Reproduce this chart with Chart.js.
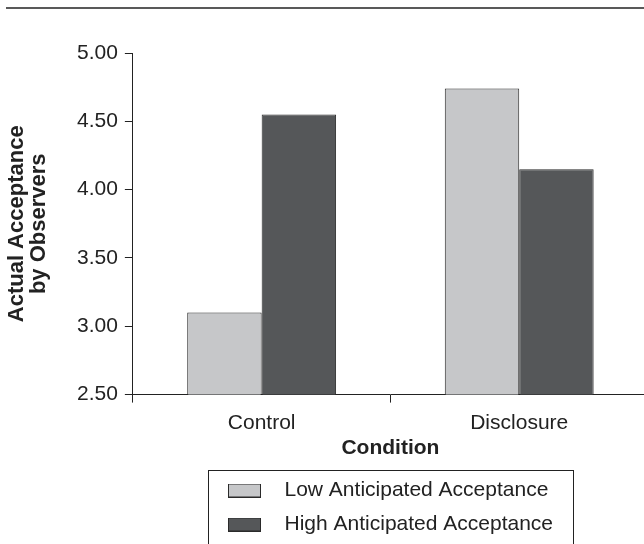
<!DOCTYPE html>
<html>
<head>
<meta charset="utf-8">
<script src="https://cdn.jsdelivr.net/npm/chart.js@4/dist/chart.umd.min.js"></script>
<style>
  html, body { margin: 0; padding: 0; background: #fff; overflow: hidden; }
  #wrap { width: 644px; height: 544px; overflow: hidden; position: relative; }
  canvas { display: block; }
</style>
</head>
<body>
<div id="wrap"><canvas id="c" width="660" height="544" style="width:660px;height:544px"></canvas></div>
<script>
const categories = ['Control', 'Disclosure'];
const seriesNames = ['Low Anticipated Acceptance', 'High Anticipated Acceptance'];
const lowValues = [3.10, 4.74];
const highValues = [4.55, 4.15];
const yMin = 2.5, yMax = 5.0, yStep = 0.5;
const xTitle = 'Condition';
const yTitle = ['Actual Acceptance', 'by Observers'];

const lowColor = '#c6c7c9';
const highColor = '#555759';
const edge = '#2a2a2a';
const FONT = "'Liberation Sans', Arial, Helvetica, sans-serif";

function swatch(color) {
  const cv = document.createElement('canvas');
  cv.width = 46; cv.height = 14;
  const g = cv.getContext('2d');
  g.fillStyle = color;
  g.fillRect(0.5, 0.5, 32, 13);
  g.strokeStyle = edge;
  g.lineWidth = 1;
  g.strokeRect(0.5, 0.5, 32, 13);
  return cv;
}

const decor = {
  id: 'decor',
  afterLayout(chart) {
    const lg = chart.legend;
    const dx = 228 - lg.left - 13;
    lg.left += dx; lg.right += dx;
    const dy = 467 - lg.top;
    lg.top += dy; lg.bottom += dy;
  },
  afterDraw(chart) {
    const ctx = chart.ctx;
    ctx.save();
    ctx.strokeStyle = '#222';
    ctx.lineWidth = 1.5;
    ctx.beginPath();
    ctx.moveTo(6, 8); ctx.lineTo(660, 8);
    ctx.stroke();
    ctx.lineWidth = 1;
    ctx.strokeRect(208.5, 470.5, 365, 80);
    ctx.restore();
  }
};

new Chart(document.getElementById('c'), {
  type: 'bar',
  data: {
    labels: categories,
    datasets: [
      { label: seriesNames[0], data: lowValues, backgroundColor: lowColor, borderColor: edge, borderWidth: 1, borderSkipped: 'bottom', pointStyle: swatch(lowColor) },
      { label: seriesNames[1], data: highValues, backgroundColor: highColor, borderColor: edge, borderWidth: 1, borderSkipped: 'bottom', pointStyle: swatch(highColor) }
    ]
  },
  options: {
    responsive: false,
    animation: false,
    devicePixelRatio: 1,
    layout: { padding: { left: 6, right: 12, top: 53, bottom: 5 } },
    datasets: { bar: { categoryPercentage: 0.578, barPercentage: 1.0 } },
    plugins: {
      tooltip: { enabled: false },
      legend: {
        position: 'bottom',
        align: 'start',
        labels: {
          usePointStyle: true,
          pointStyleWidth: 46,
          boxHeight: 14,
          padding: 13,
          color: '#222',
          font: { family: FONT, size: 21 }
        }
      }
    },
    scales: {
      x: {
        grid: { display: true, drawOnChartArea: false, drawTicks: true, tickLength: 8, color: '#222', lineWidth: 1 },
        border: { display: true, color: '#222', width: 1 },
        ticks: { color: '#222', padding: 8, font: { family: FONT, size: 21 } },
        title: { display: true, text: xTitle, color: '#222', padding: { top: -8, bottom: 0 }, font: { family: FONT, size: 21, weight: 'bold' } }
      },
      y: {
        min: yMin, max: yMax,
        grid: { display: true, drawOnChartArea: false, drawTicks: true, tickLength: 8, color: '#222', lineWidth: 1 },
        border: { display: true, color: '#222', width: 1 },
        ticks: { stepSize: yStep, color: '#222', padding: 7, font: { family: FONT, size: 21 }, callback: v => Number(v).toFixed(2) },
        title: { display: true, text: yTitle, color: '#222', padding: { top: 0, bottom: 20 }, font: { family: FONT, size: 22, weight: 'bold', lineHeight: 1.0 } }
      }
    }
  },
  plugins: [decor]
});
</script>
</body>
</html>
